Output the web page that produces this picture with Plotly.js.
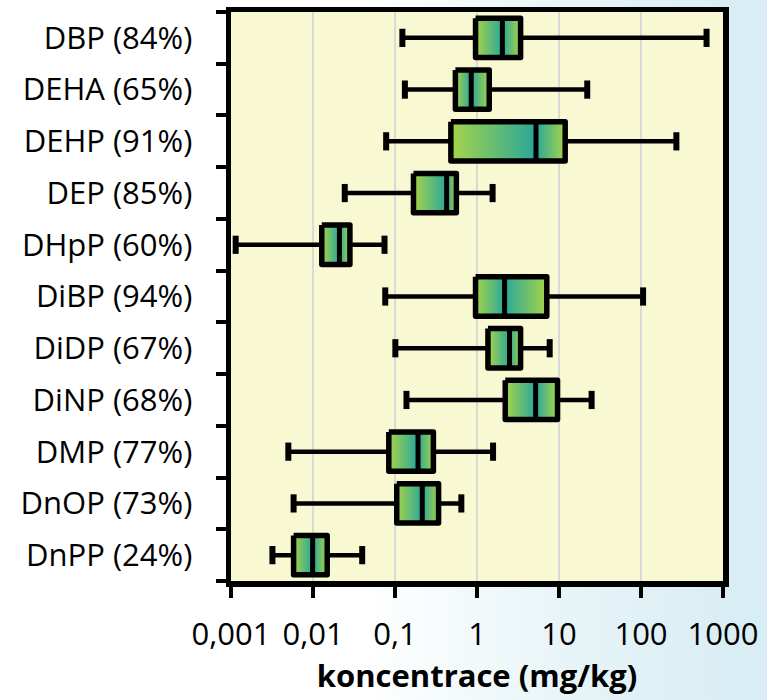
<!DOCTYPE html>
<html>
<head>
<meta charset="utf-8">
<script src="https://cdn.plot.ly/plotly-3.0.1.min.js"></script>
<style>
html, body { margin: 0; padding: 0; }
body {
  width: 767px; height: 700px; overflow: hidden;
  background: linear-gradient(to right, #ffffff 0%, #ffffff 48%, #e6f4f7 75%, #d9eef4 95%);
}
#chart { width: 767px; height: 700px; }
.scatterlayer .js-line { stroke-linejoin: round !important; stroke-linecap: butt; }
</style>
</head>
<body>
<div id="chart"></div>
<script>
// ---- data (mg/kg) ----
const categories = ["DBP (84%)", "DEHA (65%)", "DEHP (91%)", "DEP (85%)", "DHpP (60%)",
                    "DiBP (94%)", "DiDP (67%)", "DiNP (68%)", "DMP (77%)", "DnOP (73%)", "DnPP (24%)"];
const minVals    = [0.123, 0.132, 0.078, 0.0244, 0.00114, 0.076, 0.101, 0.138, 0.0050, 0.0058, 0.0032];
const q1Vals     = [0.96,  0.545, 0.48,  0.168,  0.0128,  0.96,  1.36,  2.21,  0.084,  0.105,  0.0058];
const medianVals = [2.04,  0.85,  5.24,  0.426,  0.021,   2.17,  2.49,  5.19,  0.191,  0.215,  0.0099];
const q3Vals     = [3.4,   1.41,  11.9,  0.56,   0.0282,  7.1,   3.4,   9.6,   0.294,  0.34,   0.0149];
const maxVals    = [630,   22.1,  270,   1.55,   0.0745,  106,   7.7,   25,    1.57,   0.644,  0.0398];
const xTickVals  = [0.001, 0.01, 0.1, 1, 10, 100, 1000];
const xTickText  = ["0,001", "0,01", "0,1", "1", "10", "100", "1000"];

// ---- styling ----
const GREEN = "#a7d449";
const TEAL = "#2aa79a";
const HALF = 0.38;          // half box height in category units
const FONT = "Open Sans, sans-serif";

const traces = [];
const idx = categories.map((_, i) => i);

// whiskers
const wx = [], wy = [];
idx.forEach(i => { wx.push(minVals[i], maxVals[i], null); wy.push(i, i, null); });
traces.push({type: "scatter", mode: "lines", x: wx, y: wy, hoverinfo: "skip",
  line: {color: "black", width: 4.5}, showlegend: false});

// gradient box halves
idx.forEach(i => {
  const yb = [i - HALF, i - HALF, i + HALF, i + HALF, i - HALF];
  traces.push({type: "scatter", mode: "lines", hoverinfo: "skip", showlegend: false,
    x: [q1Vals[i], medianVals[i], medianVals[i], q1Vals[i], q1Vals[i]], y: yb,
    fill: "toself", line: {width: 0, color: "rgba(0,0,0,0)"},
    fillgradient: {type: "horizontal", colorscale: [[0, GREEN], [1, TEAL]]}});
  traces.push({type: "scatter", mode: "lines", hoverinfo: "skip", showlegend: false,
    x: [medianVals[i], q3Vals[i], q3Vals[i], medianVals[i], medianVals[i]], y: yb,
    fill: "toself", line: {width: 0, color: "rgba(0,0,0,0)"},
    fillgradient: {type: "horizontal", colorscale: [[0, TEAL], [1, GREEN]]}});
});

// box outlines
const bx = [], by = [];
idx.forEach(i => {
  bx.push(q1Vals[i], q3Vals[i], q3Vals[i], q1Vals[i], q1Vals[i], null);
  by.push(i - HALF, i - HALF, i + HALF, i + HALF, i - HALF, null);
});
traces.push({type: "scatter", mode: "lines", x: bx, y: by, hoverinfo: "skip",
  line: {color: "black", width: 5.5}, showlegend: false});

// medians
const mx = [], my = [];
idx.forEach(i => { mx.push(medianVals[i], medianVals[i], null); my.push(i - HALF, i + HALF, null); });
traces.push({type: "scatter", mode: "lines", x: mx, y: my, hoverinfo: "skip",
  line: {color: "black", width: 5}, showlegend: false});

// whisker caps
const cx = [], cy = [];
idx.forEach(i => { cx.push(minVals[i], maxVals[i]); cy.push(i, i); });
traces.push({type: "scatter", mode: "markers", x: cx, y: cy, hoverinfo: "skip", showlegend: false,
  marker: {symbol: "line-ns", size: 13, color: "black", line: {color: "black", width: 6}}});

const layout = {
  width: 767, height: 700,
  margin: {l: 231, r: 44, t: 12, b: 119, pad: 0},
  paper_bgcolor: "rgba(0,0,0,0)",
  plot_bgcolor: "#f8f8d3",
  showlegend: false,
  font: {family: FONT, color: "black"},
  xaxis: {
    type: "log", range: [-3, 3],
    tickmode: "array", tickvals: xTickVals, ticktext: xTickText,
    showgrid: true, gridcolor: "#d9d9d9", gridwidth: 2,
    showline: true, linecolor: "black", linewidth: 5.5, mirror: true,
    ticks: "outside", ticklen: 11, tickwidth: 4, tickcolor: "black",
    tickfont: {family: FONT, size: 31, color: "black"},
    ticklabelstandoff: 10,
    zeroline: false,
    title: {text: "<b>koncentrace (mg/kg)</b>", font: {family: FONT, size: 31, color: "black"}, standoff: 14}
  },
  yaxis: {
    range: [10.5, -0.5],
    tickmode: "array", tickvals: idx, ticktext: categories,
    ticks: "", showgrid: false, zeroline: false,
    showline: true, linecolor: "black", linewidth: 5.5, mirror: true,
    tickfont: {family: FONT, size: 31, color: "black"},
    ticklabelstandoff: 27,
    minor: {tickvals: idx.concat([idx.length]).map(v => v - 0.5), ticks: "outside", ticklen: 10,
            tickwidth: 4, tickcolor: "black", showgrid: false}
  }
};

Plotly.newPlot("chart", traces, layout, {displayModeBar: false, staticPlot: true});
</script>
</body>
</html>
